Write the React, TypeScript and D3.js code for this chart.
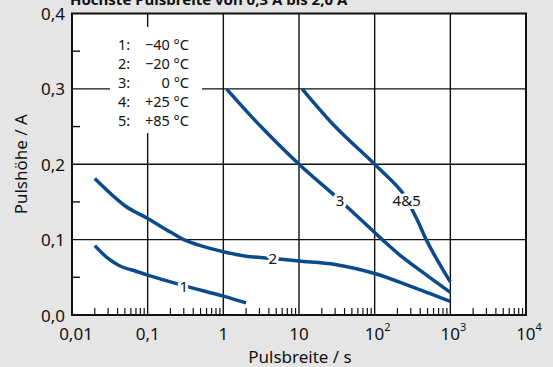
import React from "react";
import * as d3 from "d3";

const TITLE = "Höchste Pulsbreite von 0,3 A bis 2,0 A";
const X_TICKS = [0.01, 0.1, 1, 10, 100, 1000, 10000];
const X_TICK_LABELS = [
  { base: "0,01", sup: "" },
  { base: "0,1", sup: "" },
  { base: "1", sup: "" },
  { base: "10", sup: "" },
  { base: "10", sup: "2" },
  { base: "10", sup: "3" },
  { base: "10", sup: "4" },
];
const Y_TICKS = [0, 0.1, 0.2, 0.3, 0.4];
const Y_TICK_LABELS = ["0,0", "0,1", "0,2", "0,3", "0,4"];
const Y_MINOR = [0.05, 0.15, 0.25, 0.35];
const LEGEND_KEYS = ["1:", "2:", "3:", "4:", "5:"];
const LEGEND_VALUES = ["−40 °C", "−20 °C", "0 °C", "+25 °C", "+85 °C"];

const c1x = [0.02, 0.03, 0.043, 0.07, 0.1, 0.3, 1, 2];
const c1y = [0.092, 0.075, 0.065, 0.058, 0.053, 0.039, 0.025, 0.016];
const c2x = [0.02, 0.05, 0.1, 0.2, 0.3, 0.5, 1, 2, 4.5, 10, 30, 100, 300, 1000];
const c2y = [0.181, 0.145, 0.128, 0.11, 0.1, 0.092, 0.084, 0.078, 0.075, 0.0715, 0.067, 0.055, 0.038, 0.018];
const c3x = [1.1, 3, 10, 35, 126, 215, 500, 1000];
const c3y = [0.3, 0.252, 0.2, 0.152, 0.1, 0.0795, 0.052, 0.03];
const c45x = [11, 30, 100, 230, 350, 480, 620, 800, 1000];
const c45y = [0.3, 0.25, 0.2, 0.163, 0.13, 0.1, 0.079, 0.06, 0.044];

const CURVE_LABELS = [
  { text: "1", x: 0.3, y: 0.038 },
  { text: "2", x: 4.5, y: 0.075 },
  { text: "3", x: 35, y: 0.152 },
  { text: "4&5", x: 265, y: 0.152 },
];

const W = 553;
const H = 367;
const L = 72, R = 526, T = 13.5, B = 315;
const FONT = "'Noto Sans', 'Open Sans', sans-serif";
const BLUE = "#0b4a8b";

export default function App() {
  const x = d3.scaleLog().domain([0.01, 10000]).range([L, R]);
  const y = d3.scaleLinear().domain([0, 0.4]).range([B, T]);
  const line = d3
    .line<[number, number]>()
    .x((d) => x(d[0]))
    .y((d) => y(d[1]))
    .curve(d3.curveCatmullRom.alpha(0.5));
  const curves = [
    [c1x, c1y],
    [c2x, c2y],
    [c3x, c3y],
    [c45x, c45y],
  ].map(([xs, ys]) => xs.map((v, i) => [v, ys[i]] as [number, number]));

  const minorX: number[] = [];
  for (let e = -2; e < 4; e++) {
    for (let k = 2; k <= 9; k++) minorX.push(k * Math.pow(10, e));
  }

  const legX0 = 110, legX1 = 202, legY0 = 27, legY1 = 133;

  return (
    <svg width={W} height={H} style={{ position: "absolute", left: 0, top: 0 }}>
      <rect x={0} y={0} width={W} height={H} fill="#e4e5e4" />
      <text x={L - 2} y={5} fontFamily={FONT} fontWeight="bold" fontSize={15} fill="#111">
        {TITLE}
      </text>
      <rect x={L} y={T} width={R - L} height={B - T} fill="#fff" />
      {/* grid */}
      {X_TICKS.slice(1, -1).map((v) => (
        <line key={"gx" + v} x1={x(v)} x2={x(v)} y1={T} y2={B} stroke="#111" strokeWidth={1.4} />
      ))}
      {Y_TICKS.slice(1, -1).map((v) => (
        <line key={"gy" + v} x1={L} x2={R} y1={y(v)} y2={y(v)} stroke="#111" strokeWidth={1.4} />
      ))}
      {Y_MINOR.map((v) => (
        <line key={"my" + v} x1={L} x2={L + 8} y1={y(v)} y2={y(v)} stroke="#111" strokeWidth={1.4} />
      ))}
      {minorX.map((v) => (
        <line key={"mx" + v} x1={x(v)} x2={x(v)} y1={B} y2={B - 7} stroke="#111" strokeWidth={1.2} />
      ))}
      {/* legend box */}
      <rect x={legX0} y={legY0} width={legX1 - legX0} height={legY1 - legY0} fill="#fff" />
      {LEGEND_KEYS.map((k, i) => (
        <g key={k} fontFamily={FONT} fontSize={14.5} fill="#111">
          <text x={118} y={43.5 + i * 19} dominantBaseline="central">{k}</text>
          <text x={189} y={43.5 + i * 19} dominantBaseline="central" textAnchor="end">
            {LEGEND_VALUES[i]}
          </text>
        </g>
      ))}
      {/* curves */}
      {curves.map((c, i) => (
        <path key={"c" + i} d={line(c) || ""} fill="none" stroke={BLUE} strokeWidth={3.5} />
      ))}
      {CURVE_LABELS.map((l) => (
        <text
          key={l.text}
          x={x(l.x)}
          y={y(l.y)}
          textAnchor="middle"
          dominantBaseline="central"
          fontFamily={FONT}
          fontSize={15}
          fill="#111"
          stroke="#fff"
          strokeWidth={6}
          paintOrder="stroke"
          strokeLinejoin="round"
        >
          {l.text}
        </text>
      ))}
      {/* frame */}
      <rect x={L} y={T} width={R - L} height={B - T} fill="none" stroke="#111" strokeWidth={2} />
      {/* y tick labels */}
      {Y_TICKS.map((v, i) => (
        <text
          key={"yl" + v}
          x={65}
          y={y(v)}
          textAnchor="end"
          dominantBaseline="central"
          fontFamily={FONT}
          fontSize={17}
          fill="#111"
        >
          {Y_TICK_LABELS[i]}
        </text>
      ))}
      {/* x tick labels */}
      {X_TICKS.map((v, i) => {
        const lab = X_TICK_LABELS[i];
        const dx = i === 0 ? 4 : lab.sup ? 3 : 0;
        return (
          <text
            key={"xl" + v}
            x={x(v) + dx}
            y={333}
            textAnchor="middle"
            dominantBaseline="central"
            fontFamily={FONT}
            fontSize={17}
            fill="#111"
          >
            {lab.base}
            {lab.sup && (
              <tspan fontSize={11} dy={-7}>
                {lab.sup}
              </tspan>
            )}
          </text>
        );
      })}
      <text x={300} y={356} textAnchor="middle" dominantBaseline="central" fontFamily={FONT} fontSize={17} fill="#111">
        Pulsbreite / s
      </text>
      <text
        transform={`translate(20,${(T + B) / 2}) rotate(-90)`}
        textAnchor="middle"
        dominantBaseline="central"
        fontFamily={FONT}
        fontSize={17}
        fill="#111"
      >
        Pulshöhe / A
      </text>
    </svg>
  );
}
